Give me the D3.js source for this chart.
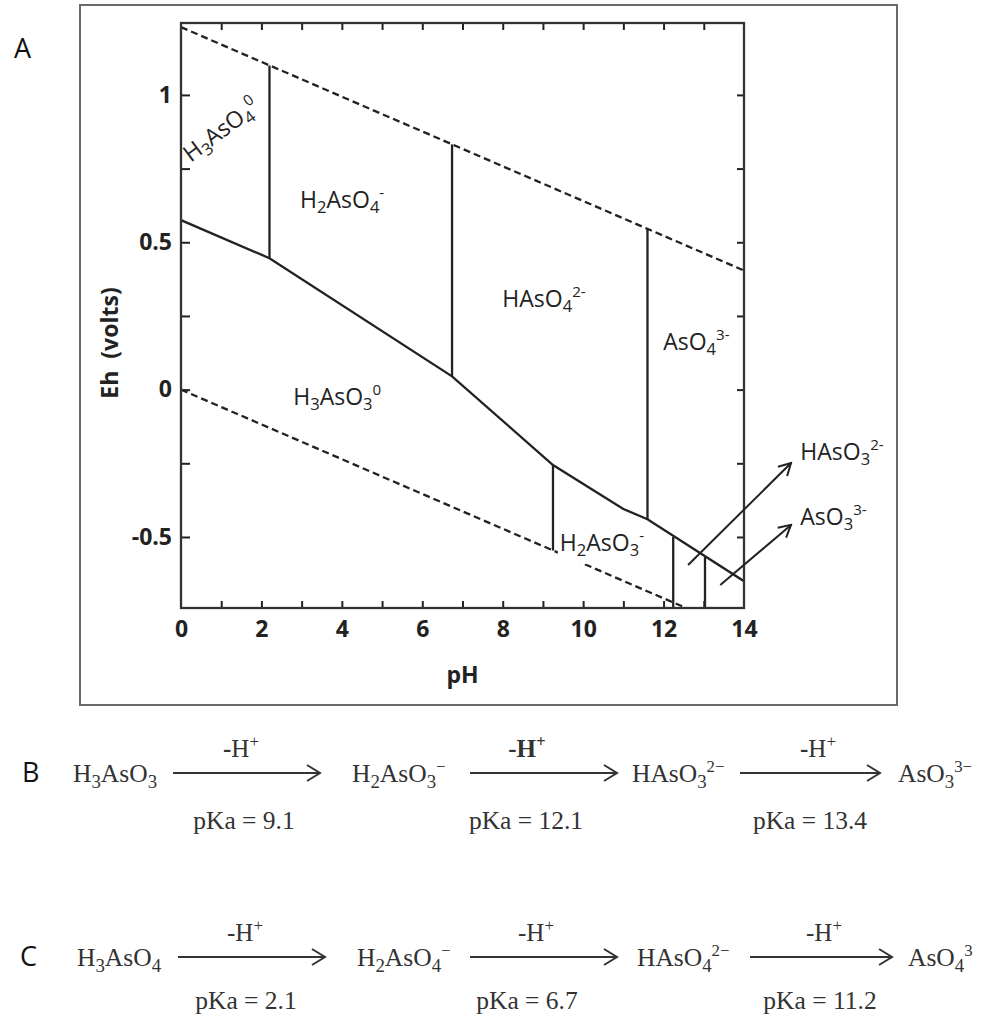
<!DOCTYPE html>
<html>
<head>
<meta charset="utf-8">
<script src="https://cdn.jsdelivr.net/npm/d3@7/dist/d3.min.js"></script>
<style>
  html, body { margin: 0; padding: 0; background: #fff; }
  svg { display: block; }
</style>
</head>
<body>
<script>
// ---------------- DATA ----------------
const xTickLabels = [0, 2, 4, 6, 8, 10, 12, 14];
const xMinorTicks = [1, 2, 3, 4, 5, 6, 7, 8, 9, 10, 11, 12, 13];
const yTicks = [-0.5, -0.25, 0, 0.25, 0.5, 0.75, 1];
const yTickLabels = [-0.5, 0, 0.5, 1];

// water stability limits (dashed)
const waterUpper = [[0, 1.23], [14, 0.404]];
const waterLower = [[0, 0], [14, -0.826]];

// As(V)/As(III) redox boundary (solid)
const redoxBoundary = [[0, 0.575], [2.2, 0.446], [6.74, 0.045], [9.25, -0.256], [11.0, -0.405], [11.6, -0.44], [14, -0.65]];

// vertical acid/base boundaries: [pH, Eh top, Eh bottom]
const verticals = [
  [2.2, 1.10, 0.446],
  [6.74, 0.832, 0.045],
  [11.6, 0.546, -0.44],
  [9.25, -0.256, -0.546],
  [12.24, -0.50, -0.741],
  [13.03, -0.567, -0.741]
];

// species labels in the diagram: [formula, pH, Eh, rotation]
const speciesLabels = [
  ["H_{3}AsO_{4}^{0}", 0.24, 0.77, -37],
  ["H_{2}AsO_{4}^{-}", 2.96, 0.617, 0],
  ["HAsO_{4}^{2-}", 7.99, 0.28, 0],
  ["AsO_{4}^{3-}", 11.99, 0.135, 0],
  ["H_{3}AsO_{3}^{0}", 2.79, -0.052, 0],
  ["H_{2}AsO_{3}^{-}", 9.42, -0.547, 0],
  ["HAsO_{3}^{2-}", 15.4, -0.239, 0],
  ["AsO_{3}^{3-}", 15.4, -0.459, 0]
];

// pointer arrows: [fromPH, fromEh, toPH, toEh]
const pointerArrows = [
  [12.61, -0.595, 15.17, -0.249],
  [13.41, -0.663, 15.17, -0.459]
];

// reaction schemes
const rowBSpecies = ["H_{3}AsO_{3}", "H_{2}AsO_{3}^{−}", "HAsO_{3}^{2−}", "AsO_{3}^{3−}"];
const rowBpKa = ["9.1", "12.1", "13.4"];
const rowCSpecies = ["H_{3}AsO_{4}", "H_{2}AsO_{4}^{−}", "HAsO_{4}^{2−}", "AsO_{4}^{3}"];
const rowCpKa = ["2.1", "6.7", "11.2"];

// ---------------- SETUP ----------------
const W = 981, H = 1014;
const svg = d3.select("body").append("svg").attr("width", W).attr("height", H)
  .attr("viewBox", `0 0 ${W} ${H}`);
svg.append("rect").attr("width", W).attr("height", H).attr("fill", "#fff");

const SANS = "'Open Sans', 'DejaVu Sans', sans-serif";
const SERIF = "'Liberation Serif', 'DejaVu Serif', serif";
const INK = "#222";

const defs = svg.append("defs");
defs.append("marker").attr("id", "headPlot")
  .attr("markerUnits", "userSpaceOnUse").attr("markerWidth", 16).attr("markerHeight", 16)
  .attr("viewBox", "0 0 16 16").attr("refX", 14).attr("refY", 8).attr("orient", "auto")
  .append("path").attr("d", "M2,1.5 L14,8 L2,14.5").attr("fill", "none")
  .attr("stroke", INK).attr("stroke-width", 2);
defs.append("marker").attr("id", "headRxn")
  .attr("markerUnits", "userSpaceOnUse").attr("markerWidth", 18).attr("markerHeight", 20)
  .attr("viewBox", "0 0 18 20").attr("refX", 15).attr("refY", 10).attr("orient", "auto")
  .append("path").attr("d", "M2,2 L15,10 L2,18").attr("fill", "none")
  .attr("stroke", "#333").attr("stroke-width", 2);

// parse "H_{3}AsO_{4}^{0}" into tokens
function parseFormula(s) {
  const re = /_\{([^}]*)\}|\^\{([^}]*)\}|([^_^]+)/g;
  const out = []; let m;
  while ((m = re.exec(s)) !== null) {
    if (m[1] !== undefined) out.push({ t: m[1], k: "sub" });
    else if (m[2] !== undefined) out.push({ t: m[2], k: "sup" });
    else out.push({ t: m[3], k: "n" });
  }
  return out;
}
function writeFormula(textSel, str, size, o) {
  const toks = parseFormula(str);
  let shift = 0;
  toks.forEach(tk => {
    const target = tk.k === "sub" ? o.sub : tk.k === "sup" ? -o.sup : 0;
    const fs = tk.k === "n" ? size : size * (tk.k === "sub" ? o.subScale : o.supScale);
    textSel.append("tspan").attr("dy", target - shift).attr("font-size", fs).text(tk.t);
    shift = target;
  });
}

// ---------------- PANEL A ----------------
svg.append("rect").attr("x", 80).attr("y", 5).attr("width", 817).attr("height", 700)
  .attr("fill", "none").attr("stroke", "#6a6a6a").attr("stroke-width", 2);

const x = d3.scaleLinear().domain([0, 14]).range([181, 744]);
const y = d3.scaleLinear().domain([-0.741, 1.244]).range([608, 23]);

defs.append("clipPath").attr("id", "plotClip").append("rect")
  .attr("x", x(0)).attr("y", y(1.244)).attr("width", x(14) - x(0)).attr("height", y(-0.741) - y(1.244));

const gA = svg.append("g");
const line = d3.line().x(d => x(d[0])).y(d => y(d[1]));

const plot = gA.append("g").attr("clip-path", "url(#plotClip)");
plot.append("path").datum(waterUpper).attr("d", line).attr("fill", "none")
  .attr("stroke", INK).attr("stroke-width", 2.3).attr("stroke-dasharray", "7,4");
plot.append("path").datum(waterLower).attr("d", line).attr("fill", "none")
  .attr("stroke", INK).attr("stroke-width", 2.3).attr("stroke-dasharray", "7,4");
plot.append("path").datum(redoxBoundary).attr("d", line).attr("fill", "none")
  .attr("stroke", INK).attr("stroke-width", 2.3);
plot.selectAll("line.v").data(verticals).join("line").attr("class", "v")
  .attr("x1", d => x(d[0])).attr("x2", d => x(d[0]))
  .attr("y1", d => y(d[1])).attr("y2", d => y(d[2]))
  .attr("stroke", INK).attr("stroke-width", 2.3);

// axes (ticks inside)
function styleAxis(g) {
  g.select(".domain").remove();
  g.selectAll(".tick line").attr("stroke", INK).attr("stroke-width", 2);
  g.selectAll(".tick text").attr("fill", INK).attr("font-family", SANS)
    .attr("font-weight", "bold").attr("font-size", 23);
}
gA.append("g").attr("transform", `translate(0,${y(-0.741)})`)
  .call(d3.axisBottom(x).tickValues(xMinorTicks).tickSize(-7).tickFormat(""))
  .call(styleAxis);
gA.append("g").attr("transform", `translate(0,${y(-0.741)})`)
  .call(d3.axisBottom(x).tickValues(xTickLabels).tickSize(0).tickPadding(13).tickFormat(d3.format("d")))
  .call(styleAxis);
gA.append("g").attr("transform", `translate(0,${y(1.244)})`)
  .call(d3.axisTop(x).tickValues(xMinorTicks).tickSize(-7).tickFormat(""))
  .call(styleAxis);
gA.append("g").attr("transform", `translate(${x(0)},0)`)
  .call(d3.axisLeft(y).tickValues(yTicks).tickSize(-9).tickFormat(""))
  .call(styleAxis);
gA.append("g").attr("transform", `translate(${x(0)},0)`)
  .call(d3.axisLeft(y).tickValues(yTickLabels).tickSize(0).tickPadding(9)
    .tickFormat(d => (d < 0 ? "-" : "") + String(Math.abs(d))))
  .call(styleAxis);
gA.append("g").attr("transform", `translate(${x(14)},0)`)
  .call(d3.axisRight(y).tickValues(yTicks).tickSize(-7).tickFormat(""))
  .call(styleAxis);

// frame
gA.append("rect").attr("x", x(0)).attr("y", y(1.244))
  .attr("width", x(14) - x(0)).attr("height", y(-0.741) - y(1.244))
  .attr("fill", "none").attr("stroke", "#333").attr("stroke-width", 2.3);

// axis titles
gA.append("text").attr("x", (x(0) + x(14)) / 2).attr("y", 683)
  .attr("text-anchor", "middle").attr("font-family", SANS).attr("font-weight", "bold")
  .attr("font-size", 23).attr("fill", INK).text("pH");
const eh = gA.append("text").attr("transform", "translate(118,343) rotate(-90)")
  .attr("text-anchor", "middle").attr("font-family", SANS).attr("font-weight", "bold")
  .attr("font-size", 23).attr("fill", INK);
eh.append("tspan").text("Eh");
eh.append("tspan").attr("dx", 12).text("(volts)");

// pointer arrows
gA.selectAll("line.ptr").data(pointerArrows).join("line").attr("class", "ptr")
  .attr("x1", d => x(d[0])).attr("y1", d => y(d[1]))
  .attr("x2", d => x(d[2])).attr("y2", d => y(d[3]))
  .attr("stroke", INK).attr("stroke-width", 2).attr("marker-end", "url(#headPlot)");

// species labels
speciesLabels.forEach(([f, ph, e, rot]) => {
  const t = gA.append("text")
    .attr("transform", `translate(${x(ph)},${y(e)}) rotate(${rot})`)
    .attr("font-family", SANS).attr("font-size", 23).attr("fill", INK);
  writeFormula(t, f, 23, { sub: 5, sup: 10, subScale: 0.72, supScale: 0.66 });
  if (f === "H_{2}AsO_{3}^{-}") {
    const bb = t.node().getBBox();
    const tn = t.node();
    gA.insert("rect", () => tn)
      .attr("x", x(ph) + bb.x - 2).attr("y", y(e) + bb.y - 1)
      .attr("width", bb.width + 4).attr("height", bb.height + 4).attr("fill", "#fff");
  }
});

// panel letter
svg.append("text").attr("x", 14).attr("y", 58).attr("font-family", SANS)
  .attr("font-size", 27).attr("fill", "#111").text("A");

// ---------------- PANELS B & C ----------------
function drawRow(letter, letterX, species, pKa, L) {
  svg.append("text").attr("x", letterX).attr("y", L.base).attr("font-family", SANS)
    .attr("font-size", 27).attr("fill", "#111").text(letter);
  species.forEach((s, i) => {
    const t = svg.append("text").attr("x", L.sx[i]).attr("y", L.base)
      .attr("font-family", SERIF).attr("font-size", 25.5).attr("fill", "#333");
    writeFormula(t, s, 25.5, { sub: 6, sup: 10, subScale: 0.74, supScale: 0.66 });
  });
  pKa.forEach((v, i) => {
    svg.append("line").attr("x1", L.ax[i][0]).attr("x2", L.ax[i][1])
      .attr("y1", L.ay).attr("y2", L.ay).attr("stroke", "#333").attr("stroke-width", 2)
      .attr("marker-end", "url(#headRxn)");
    const h = svg.append("text").attr("x", L.hx[i]).attr("y", L.hBase)
      .attr("text-anchor", "middle").attr("font-family", SERIF).attr("font-size", 25).attr("fill", "#333");
    const st = L.hStyle[i];
    h.append("tspan").attr("font-weight", st.dash ? "bold" : "normal").text("-");
    h.append("tspan").attr("font-weight", st.h ? "bold" : "normal").text("H");
    h.append("tspan").attr("dy", -10).attr("font-size", 17).attr("font-weight", st.h ? "bold" : "normal").text("+");
    svg.append("text").attr("x", L.px[i]).attr("y", L.pBase)
      .attr("text-anchor", "middle").attr("font-family", SERIF).attr("font-size", 25.5).attr("fill", "#333")
      .text("pKa = " + v);
  });
}

drawRow("B", 22, rowBSpecies, rowBpKa, {
  base: 782, sx: [73, 352, 632, 898],
  ay: 773, ax: [[173, 320], [470, 617], [740, 880]],
  hBase: 757, hx: [241, 527, 818], hStyle: [{ dash: true }, { dash: true, h: true }, { dash: true }],
  pBase: 829, px: [244, 526, 810]
});
drawRow("C", 20, rowCSpecies, rowCpKa, {
  base: 966, sx: [77, 357, 637, 908],
  ay: 957, ax: [[178, 325], [470, 617], [750, 892]],
  hBase: 941, hx: [245, 536, 824], hStyle: [{}, {}, {}],
  pBase: 1009, px: [246, 527, 820]
});
</script>
</body>
</html>
